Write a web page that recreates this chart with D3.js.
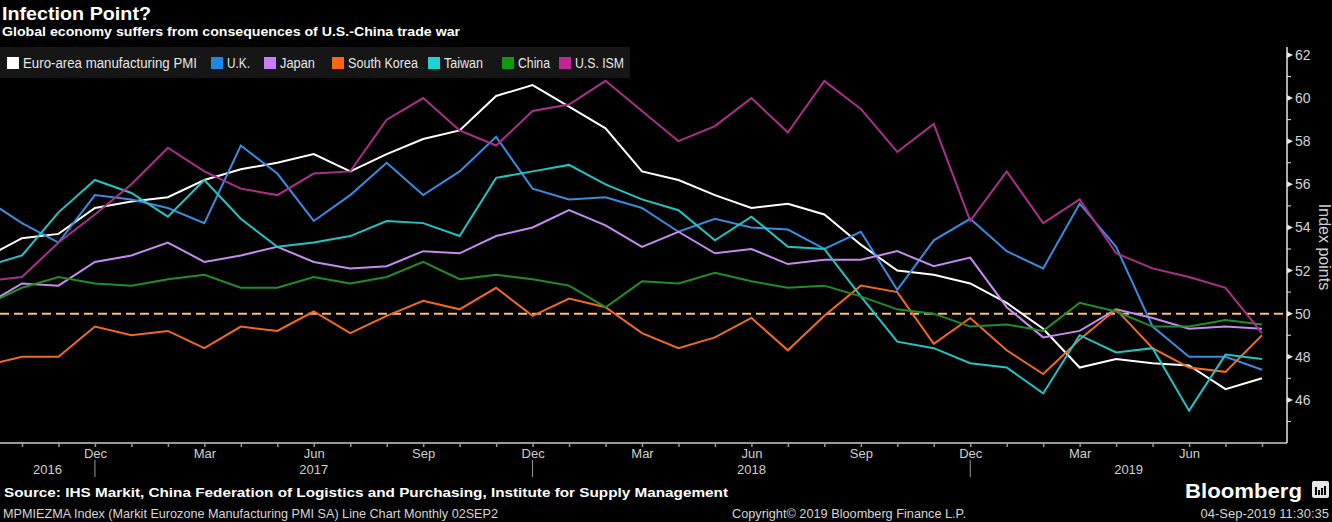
<!DOCTYPE html>
<html><head><meta charset="utf-8">
<script src="https://cdn.jsdelivr.net/npm/d3@7"></script>
<style>
html,body{margin:0;padding:0;background:#000;}
svg{display:block;}
text{font-family:"Liberation Sans Narrow","Liberation Sans",Arial,sans-serif;}
</style></head>
<body>
<svg id="c" width="1332" height="522"></svg>
<script>
// ---------- DATA ----------
const months = ["2016-09","2016-10","2016-11","2016-12","2017-01","2017-02","2017-03","2017-04","2017-05","2017-06","2017-07","2017-08","2017-09","2017-10","2017-11","2017-12","2018-01","2018-02","2018-03","2018-04","2018-05","2018-06","2018-07","2018-08","2018-09","2018-10","2018-11","2018-12","2019-01","2019-02","2019-03","2019-04","2019-05","2019-06","2019-07","2019-08"];
const seriesNames = ["Euro-area manufacturing PMI","U.K.","Japan","South Korea","Taiwan","China","U.S. ISM"];
const euroArea  = [52.6,53.5,53.7,54.9,55.2,55.4,56.2,56.7,57.0,57.4,56.6,57.4,58.1,58.5,60.1,60.6,59.6,58.6,56.6,56.2,55.5,54.9,55.1,54.6,53.2,52.0,51.8,51.4,50.5,49.3,47.5,47.9,47.7,47.6,46.5,47.0];
const uk        = [55.3,54.2,53.3,55.5,55.3,54.9,54.2,57.8,56.5,54.3,55.5,57.0,55.5,56.6,58.2,55.8,55.3,55.4,54.9,53.8,54.4,54.0,53.9,53.0,53.8,51.1,53.4,54.4,52.9,52.1,55.1,53.1,49.4,48.0,48.0,47.4];
const japan     = [50.4,51.4,51.3,52.4,52.7,53.3,52.4,52.7,53.1,52.4,52.1,52.2,52.9,52.8,53.6,54.0,54.8,54.1,53.1,53.8,52.8,53.0,52.3,52.5,52.5,52.9,52.2,52.6,50.3,48.9,49.2,50.2,49.8,49.3,49.4,49.3];
const southKorea= [47.6,48.0,48.0,49.4,49.0,49.2,48.4,49.4,49.2,50.1,49.1,49.9,50.6,50.2,51.2,49.9,50.7,50.3,49.1,48.4,48.9,49.8,48.3,49.9,51.3,51.0,48.6,49.8,48.3,47.2,48.8,50.2,48.4,47.5,47.3,49.0];
const taiwan    = [52.2,52.7,54.7,56.2,55.6,54.5,56.2,54.4,53.1,53.3,53.6,54.3,54.2,53.6,56.3,56.6,56.9,56.0,55.3,54.8,53.4,54.5,53.1,53.0,50.8,48.7,48.4,47.7,47.5,46.3,49.0,48.2,48.4,45.5,48.1,47.9];
const china     = [50.4,51.2,51.7,51.4,51.3,51.6,51.8,51.2,51.2,51.7,51.4,51.7,52.4,51.6,51.8,51.6,51.3,50.3,51.5,51.4,51.9,51.5,51.2,51.3,50.8,50.2,50.0,49.4,49.5,49.2,50.5,50.1,49.4,49.4,49.7,49.5];
const usIsm     = [51.5,51.7,53.3,54.6,56.0,57.7,56.6,55.8,55.5,56.5,56.6,59.0,60.0,58.5,57.8,59.4,59.7,60.8,59.4,58.0,58.7,60.0,58.4,60.8,59.5,57.5,58.8,54.3,56.6,54.2,55.3,52.8,52.1,51.7,51.2,49.1];
const lineColors   = ["#ffffff","#3a8ce0","#c68bf0","#f06a22","#22c4c4","#1e8f28","#ad2f8a"];
const legendColors = ["#ffffff","#1e88e5","#c77dff","#ff6413","#1dd3d3","#109a10","#c0269a"];
const yTicks = [46,48,50,52,54,56,58,60,62];
const yMinor = [45,47,49,51,53,55,57,59,61];
const quarterLabels = {12:"Dec",3:"Mar",6:"Jun",9:"Sep"};
const years = ["2016","2017","2018","2019"];
const threshold = 50;

const allSeries = [euroArea, uk, japan, southKorea, taiwan, china, usIsm];

// ---------- LAYOUT ----------
const svg = d3.select("#c");
const W = 1332, H = 522;
const plotL = 0, plotR = 1287, plotT = 47, plotB = 443;

const x = d3.scaleLinear().domain([1, months.length - 1]).range([22, 1262]);
const y = d3.scaleLinear().domain([44, 62.37]).range([plotB, plotT]);

svg.append("rect").attr("width", W).attr("height", H).attr("fill", "#000");

// Title
svg.append("text").attr("x", 2).attr("y", 20).attr("fill", "#fff")
  .style("font-family", "'Liberation Sans',Arial,sans-serif").style("font-weight", "bold").style("font-size", "19px")
  .attr("textLength", 149).attr("lengthAdjust", "spacingAndGlyphs")
  .text("Infection Point?");
svg.append("text").attr("x", 2).attr("y", 36).attr("fill", "#fff")
  .style("font-family", "'Liberation Sans',Arial,sans-serif").style("font-weight", "bold").style("font-size", "13px")
  .attr("textLength", 458).attr("lengthAdjust", "spacingAndGlyphs")
  .text("Global economy suffers from consequences of U.S.-China trade war");

// Legend
svg.append("rect").attr("x", 0).attr("y", 47).attr("width", 630).attr("height", 31).attr("fill", "#161616");
const legendX = [7, 211, 264, 332, 428, 502, 559];
const legendTextW = [174, 23, 35, 70, 39, 32, 49];
seriesNames.forEach((n, i) => {
  const g = svg.append("g").attr("transform", `translate(${legendX[i]},0)`);
  g.append("rect").attr("x", 0).attr("y", 57).attr("width", 12).attr("height", 12).attr("fill", legendColors[i]);
  g.append("text").attr("x", 16).attr("y", 68).attr("fill", "#e6e6e6").style("font-size", "14px")
    .attr("textLength", legendTextW[i]).attr("lengthAdjust", "spacingAndGlyphs").text(n);
});

// Clip
svg.append("defs").append("clipPath").attr("id", "clip")
  .append("rect").attr("x", plotL).attr("y", plotT).attr("width", plotR - plotL).attr("height", plotB - plotT);

// X axis
const xAxis = d3.axisBottom(x).tickValues(d3.range(1, months.length)).tickSize(4)
  .tickFormat(i => quarterLabels[+months[i].slice(5)] || "");
const gx = svg.append("g").attr("transform", `translate(0,${plotB})`).call(xAxis);
gx.select(".domain").remove();
gx.selectAll(".tick line").attr("stroke", "#9a9a9a").attr("stroke-width", 1.5);
gx.selectAll(".tick text").attr("fill", "#cfcfcf").attr("y", 6).style("font-size", "13px");
svg.append("line").attr("x1", 0).attr("x2", plotR).attr("y1", plotB).attr("y2", plotB)
  .attr("stroke", "#9a9a9a").attr("stroke-width", 2);

// Year separators and labels
const decIdx = months.map((m, i) => m.endsWith("-12") ? i : -1).filter(i => i >= 0);
decIdx.forEach(i => {
  svg.append("line").attr("x1", x(i)).attr("x2", x(i)).attr("y1", 460).attr("y2", 477)
    .attr("stroke", "#9a9a9a").attr("stroke-width", 1);
});
const bounds = [plotL, ...decIdx.map(i => x(i)), plotR];
years.forEach((yr, k) => {
  svg.append("text").attr("x", (bounds[k] + bounds[k + 1]) / 2).attr("y", 474)
    .attr("text-anchor", "middle").attr("fill", "#cfcfcf").style("font-size", "13px").text(yr);
});

// Y axis (right)
svg.append("line").attr("x1", plotR).attr("x2", plotR).attr("y1", plotT).attr("y2", plotB)
  .attr("stroke", "#e6e6e6").attr("stroke-width", 1.5);
const gy = svg.append("g");
yTicks.forEach(v => {
  const yy = y(v);
  gy.append("path").attr("d", `M${plotR},${yy - 3}L${plotR + 6},${yy}L${plotR},${yy + 3}Z`).attr("fill", "#e6e6e6");
  gy.append("text").attr("x", plotR + 8).attr("y", yy + 5).attr("fill", "#d6d6d6").style("font-size", "14px").text(v);
});
yMinor.forEach(v => {
  gy.append("line").attr("x1", plotR).attr("x2", plotR + 4).attr("y1", y(v)).attr("y2", y(v))
    .attr("stroke", "#e6e6e6").attr("stroke-width", 1);
});
svg.append("text").attr("transform", `translate(1319,247) rotate(90)`).attr("text-anchor", "middle")
  .attr("fill", "#cfcfcf").style("font-size", "16px").text("Index points");

// Threshold dashed line
svg.append("line").attr("x1", plotL).attr("x2", plotR).attr("y1", y(threshold)).attr("y2", y(threshold))
  .attr("stroke", "#f6c07c").attr("stroke-width", 2).attr("stroke-dasharray", "9,5");

// Lines
const line = d3.line().x((d, i) => x(i)).y(d => y(d));
const gl = svg.append("g").attr("clip-path", "url(#clip)");
allSeries.forEach((s, k) => {
  gl.append("path").datum(s).attr("d", line).attr("fill", "none")
    .attr("stroke", lineColors[k]).attr("stroke-width", 2).attr("stroke-linejoin", "miter");
});

// Footer
svg.append("text").attr("x", 4).attr("y", 497).attr("fill", "#fff")
  .style("font-family", "'Liberation Sans',Arial,sans-serif").style("font-weight", "bold").style("font-size", "13px")
  .attr("textLength", 724).attr("lengthAdjust", "spacingAndGlyphs")
  .text("Source: IHS Markit, China Federation of Logistics and Purchasing, Institute for Supply Management");
svg.append("text").attr("x", 3).attr("y", 518).attr("fill", "#d6d6d6").style("font-size", "13px")
  .attr("textLength", 495).attr("lengthAdjust", "spacingAndGlyphs")
  .text("MPMIEZMA Index (Markit Eurozone Manufacturing PMI SA) Line Chart  Monthly 02SEP2");
svg.append("text").attr("x", 732).attr("y", 518).attr("fill", "#d6d6d6").style("font-size", "13px")
  .attr("textLength", 234).attr("lengthAdjust", "spacingAndGlyphs")
  .text("Copyright\u00a9 2019 Bloomberg Finance L.P.");
svg.append("text").attr("x", 1329).attr("y", 518).attr("text-anchor", "end").attr("fill", "#d6d6d6").style("font-size", "13px")
  .text("04-Sep-2019 11:30:35");
svg.append("text").attr("x", 1185).attr("y", 498).attr("fill", "#fff")
  .style("font-family", "'Liberation Sans',Arial,sans-serif").style("font-weight", "bold").style("font-size", "21px")
  .attr("textLength", 117).attr("lengthAdjust", "spacingAndGlyphs").text("Bloomberg");
// logo icon
const ic = svg.append("g").attr("transform", "translate(1312,481)");
ic.append("rect").attr("width", 17).attr("height", 17).attr("rx", 2).attr("fill", "#e6e6e6");
[[4,8],[7,5],[10,7],[13,9]].forEach(([bx, bh]) => {
  ic.append("rect").attr("x", bx - 1).attr("y", 14 - bh).attr("width", 2).attr("height", bh).attr("fill", "#000");
});
</script>
</body></html>
